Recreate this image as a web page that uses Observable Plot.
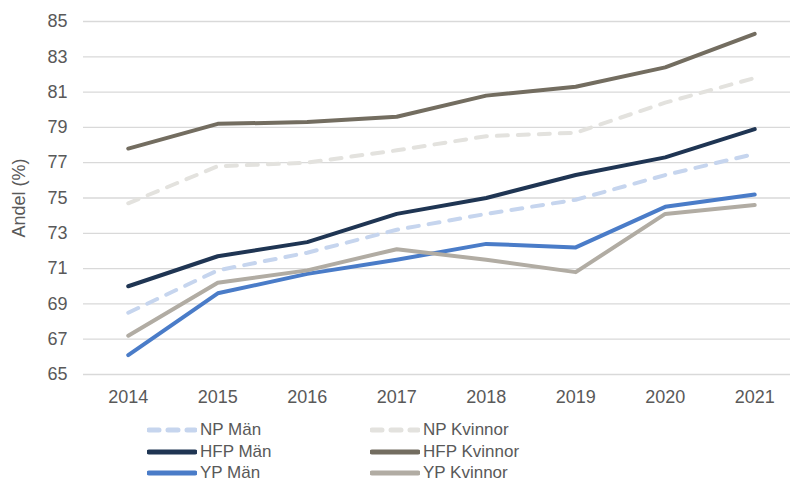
<!DOCTYPE html>
<html>
<head>
<meta charset="utf-8">
<script src="https://cdn.jsdelivr.net/npm/d3@7"></script>
<script src="https://cdn.jsdelivr.net/npm/@observablehq/plot@0.6"></script>
<style>
  body { margin: 0; background: #fff; font-family: "Liberation Sans", Arial, sans-serif; }
  #wrap { position: relative; width: 790px; height: 482px; }
  #legend { position: absolute; left: 0; top: 410px; width: 790px; height: 72px; }
  .item { position: absolute; display: flex; align-items: center; height: 20px; font-size: 17px; color: #595959; }
  .item svg { margin-right: 3px; }
</style>
</head>
<body>
<div id="wrap"><div id="chart"></div><div id="legend"></div></div>
<script>
const years = [2014, 2015, 2016, 2017, 2018, 2019, 2020, 2021];
const npMan      = [68.5, 70.9, 71.9, 73.2, 74.1, 74.9, 76.3, 77.5];
const npKvinnor  = [74.7, 76.8, 77.0, 77.7, 78.5, 78.7, 80.4, 81.8];
const hfpMan     = [70.0, 71.7, 72.5, 74.1, 75.0, 76.3, 77.3, 78.9];
const hfpKvinnor = [77.8, 79.2, 79.3, 79.6, 80.8, 81.3, 82.4, 84.3];
const ypMan      = [66.1, 69.6, 70.7, 71.5, 72.4, 72.2, 74.5, 75.2];
const ypKvinnor  = [67.2, 70.2, 70.9, 72.1, 71.5, 70.8, 74.1, 74.6];
const yTicks = [65, 67, 69, 71, 73, 75, 77, 79, 81, 83, 85];

const seriesNames = ["NP Män", "NP Kvinnor", "HFP Män", "HFP Kvinnor", "YP Män", "YP Kvinnor"];
const seriesValues = [npMan, npKvinnor, hfpMan, hfpKvinnor, ypMan, ypKvinnor];
const seriesColors = ["#c6d5ee", "#e3e2de", "#1f3553", "#736d60", "#4a7cc8", "#b1aca3"];
const dashed = ["NP Män", "NP Kvinnor"];

const data = seriesNames.flatMap((s, i) => years.map((y, j) => ({series: s, year: y, value: seriesValues[i][j]})));

const chart = Plot.plot({
  width: 790,
  height: 410,
  marginLeft: 83,
  marginRight: 0,
  marginTop: 21,
  marginBottom: 36,
  style: {fontFamily: '"Liberation Sans", Arial, sans-serif', fontSize: "18px", color: "#595959", background: "#fff"},
  x: {type: "linear", domain: [2013.5, 2021.4]},
  y: {domain: [65, 85]},
  color: {domain: seriesNames, range: seriesColors},
  marks: [
    Plot.ruleY(yTicks, {stroke: "#d9d9d9", strokeWidth: 1.3}),
    Plot.axisX({ticks: years, tickFormat: d => String(d), tickSize: 0, tickPadding: 16, label: null}),
    Plot.axisY({ticks: yTicks, tickSize: 0, tickPadding: 16, label: "Andel (%)", labelAnchor: "center", labelArrow: "none", labelOffset: 71}),
    Plot.line(data.filter(d => dashed.includes(d.series)), {x: "year", y: "value", z: "series", stroke: "series", strokeWidth: 4, strokeDasharray: "11,10", strokeLinecap: "round"}),
    Plot.line(data.filter(d => !dashed.includes(d.series)), {x: "year", y: "value", z: "series", stroke: "series", strokeWidth: 4, strokeLinecap: "round"})
  ]
});
document.getElementById("chart").appendChild(chart);

// Legend
const legend = document.getElementById("legend");
const positions = [
  [147, 10], [370, 10],
  [147, 32], [370, 32],
  [147, 53], [370, 53]
];
seriesNames.forEach((name, k) => {
  const [lx, ly] = positions[k];
  const item = document.createElement("div");
  item.className = "item";
  item.style.left = lx + "px";
  item.style.top = ly + "px";
  const isDash = dashed.includes(name);
  item.innerHTML = `<svg width="50" height="8"><line x1="2" y1="4" x2="48" y2="4" stroke="${seriesColors[k]}" stroke-width="5" stroke-linecap="round" ${isDash ? 'stroke-dasharray="10,9"' : ''}/></svg><span>${name}</span>`;
  legend.appendChild(item);
});
</script>
</body>
</html>
